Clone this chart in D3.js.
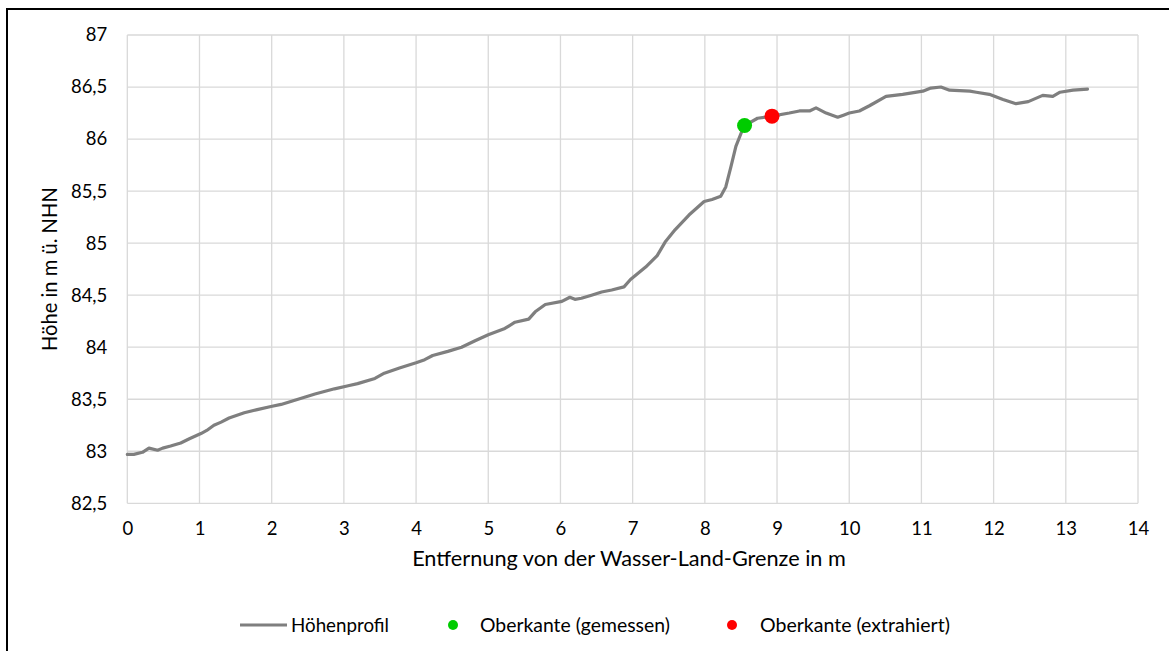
<!DOCTYPE html>
<html>
<head>
<meta charset="utf-8">
<script src="https://cdn.jsdelivr.net/npm/d3@7"></script>
<style>
  html, body { margin: 0; padding: 0; background: #fff; }
  svg { display: block; font-family: Lato, "Open Sans", sans-serif; }
</style>
</head>
<body>
<svg id="chart" width="1169" height="651"></svg>
<script>
// Höhenprofil: Entfernung (m) und Höhe (m ü. NHN)
const distance = [0, 0.09, 0.21, 0.3, 0.42, 0.49, 0.6, 0.74, 0.86, 1.02, 1.1, 1.2, 1.3, 1.41, 1.62, 1.8,
  1.99, 2.13, 2.41, 2.6, 2.87, 3.06, 3.19, 3.43, 3.56, 3.77, 4.0, 4.12, 4.23, 4.44, 4.63, 4.81,
  5.0, 5.23, 5.37, 5.56, 5.65, 5.79, 6.02, 6.13, 6.2, 6.29, 6.43, 6.57, 6.71, 6.88, 6.97, 7.18,
  7.34, 7.45, 7.59, 7.78, 7.99, 8.10, 8.22, 8.29, 8.36, 8.43, 8.51, 8.55, 8.73, 8.93, 9.17, 9.31,
  9.45, 9.54, 9.68, 9.84, 9.92, 10.0, 10.14, 10.28, 10.51, 10.74, 11.02, 11.13, 11.27, 11.39,
  11.67, 11.76, 11.94, 12.13, 12.31, 12.48, 12.68, 12.82, 12.92, 13.1, 13.3];
const height = [82.97, 82.97, 82.99, 83.03, 83.01, 83.03, 83.05, 83.08, 83.12, 83.17, 83.2, 83.25, 83.28, 83.32, 83.37, 83.4,
  83.43, 83.45, 83.51, 83.55, 83.6, 83.63, 83.65, 83.70, 83.75, 83.80, 83.85, 83.88, 83.92, 83.96, 84.0, 84.06,
  84.12, 84.18, 84.24, 84.27, 84.34, 84.41, 84.44, 84.48, 84.46, 84.47, 84.50, 84.53, 84.55, 84.58, 84.65, 84.77,
  84.88, 85.01, 85.13, 85.27, 85.40, 85.42, 85.45, 85.54, 85.73, 85.93, 86.07, 86.13, 86.2, 86.22, 86.25, 86.27,
  86.27, 86.30, 86.25, 86.21, 86.23, 86.25, 86.27, 86.32, 86.41, 86.43, 86.46, 86.49, 86.50, 86.47,
  86.46, 86.45, 86.43, 86.38, 86.34, 86.36, 86.42, 86.41, 86.45, 86.47, 86.48];

// Oberkante: gemessen und extrahiert
const edgeMeasured = [{ x: 8.55, y: 86.13 }];
const edgeExtracted = [{ x: 8.93, y: 86.22 }];

const xTicks = d3.range(0, 15, 1);
const yTicks = [82.5, 83, 83.5, 84, 84.5, 85, 85.5, 86, 86.5, 87];

const seriesNames = ["Höhenprofil", "Oberkante (gemessen)", "Oberkante (extrahiert)"];
const colors = { line: "#7f7f7f", measured: "#00cc00", extracted: "#ff0000", grid: "#d9d9d9", text: "#000000" };

const svg = d3.select("#chart");
const W = 1169, H = 651;
const plot = { left: 127.3, right: 1138, top: 35, bottom: 503.3 };

// Scale a label's font so it spans the given width
function fitWidth(sel, width) {
  const node = sel.node();
  const fs = parseFloat(sel.attr("font-size"));
  const w = node.getComputedTextLength();
  if (w > 0) sel.attr("font-size", (fs * width / w).toFixed(2));
  return sel;
}

// Chart frame
svg.append("rect")
  .attr("x", 7).attr("y", 9).attr("width", W + 10).attr("height", H + 10)
  .attr("fill", "#fff").attr("stroke", "#000").attr("stroke-width", 2);

const x = d3.scaleLinear().domain([0, 14]).range([plot.left, plot.right]);
const y = d3.scaleLinear().domain([82.5, 87]).range([plot.bottom, plot.top]);

const fmt = d => String(d).replace(".", ",");

// Grid
const grid = svg.append("g");
grid.selectAll("line.v").data(xTicks).join("line")
  .attr("x1", d => x(d)).attr("x2", d => x(d))
  .attr("y1", plot.top).attr("y2", plot.bottom)
  .attr("stroke", colors.grid).attr("stroke-width", 1.3);
grid.selectAll("line.h").data(yTicks).join("line")
  .attr("x1", plot.left).attr("x2", plot.right)
  .attr("y1", d => y(d)).attr("y2", d => y(d))
  .attr("stroke", colors.grid).attr("stroke-width", 1.3);

// Axes (labels only)
const xAxis = svg.append("g")
  .attr("transform", `translate(0,${plot.bottom})`)
  .call(d3.axisBottom(x).tickValues(xTicks).tickFormat(fmt).tickSize(0).tickPadding(19));
xAxis.select(".domain").remove();
xAxis.selectAll("text").attr("font-size", 18.5).attr("fill", colors.text).attr("font-family", "Lato");

const yAxis = svg.append("g")
  .attr("transform", `translate(${plot.left},0)`)
  .call(d3.axisLeft(y).tickValues(yTicks).tickFormat(fmt).tickSize(0).tickPadding(20));
yAxis.select(".domain").remove();
yAxis.selectAll("text").attr("font-size", 18.5).attr("fill", colors.text).attr("font-family", "Lato");

// Axis titles
fitWidth(svg.append("text")
  .attr("x", 629).attr("y", 566)
  .attr("text-anchor", "middle").attr("font-size", 20).attr("fill", colors.text)
  .text("Entfernung von der Wasser-Land-Grenze in m"), 434);
fitWidth(svg.append("text")
  .attr("transform", `translate(57,${(plot.top + plot.bottom) / 2}) rotate(-90)`)
  .attr("text-anchor", "middle").attr("font-size", 20).attr("fill", colors.text)
  .text("Höhe in m ü. NHN"), 164);

// Profile line
const profile = distance.map((d, i) => ({ x: d, y: height[i] }));
svg.append("path")
  .datum(profile)
  .attr("fill", "none").attr("stroke", colors.line).attr("stroke-width", 3.2)
  .attr("stroke-linejoin", "round").attr("stroke-linecap", "round")
  .attr("d", d3.line().x(d => x(d.x)).y(d => y(d.y)));

// Edge points
svg.selectAll("circle.measured").data(edgeMeasured).join("circle")
  .attr("cx", d => x(d.x)).attr("cy", d => y(d.y)).attr("r", 7.5).attr("fill", colors.measured);
svg.selectAll("circle.extracted").data(edgeExtracted).join("circle")
  .attr("cx", d => x(d.x)).attr("cy", d => y(d.y)).attr("r", 7.5).attr("fill", colors.extracted);

// Legend
const ly = 625;
const legend = svg.append("g").attr("fill", colors.text);
legend.append("line").attr("x1", 240).attr("x2", 287).attr("y1", ly).attr("y2", ly)
  .attr("stroke", colors.line).attr("stroke-width", 3.2);
fitWidth(legend.append("text").attr("x", 291).attr("y", ly).attr("dy", "0.35em")
  .attr("font-size", 19).text(seriesNames[0]), 98);
legend.append("circle").attr("cx", 453).attr("cy", ly).attr("r", 5).attr("fill", colors.measured);
fitWidth(legend.append("text").attr("x", 480).attr("y", ly).attr("dy", "0.35em")
  .attr("font-size", 19).text(seriesNames[1]), 190);
legend.append("circle").attr("cx", 732).attr("cy", ly).attr("r", 5).attr("fill", colors.extracted);
fitWidth(legend.append("text").attr("x", 760).attr("y", ly).attr("dy", "0.35em")
  .attr("font-size", 19).text(seriesNames[2]), 190);
</script>
</body>
</html>
